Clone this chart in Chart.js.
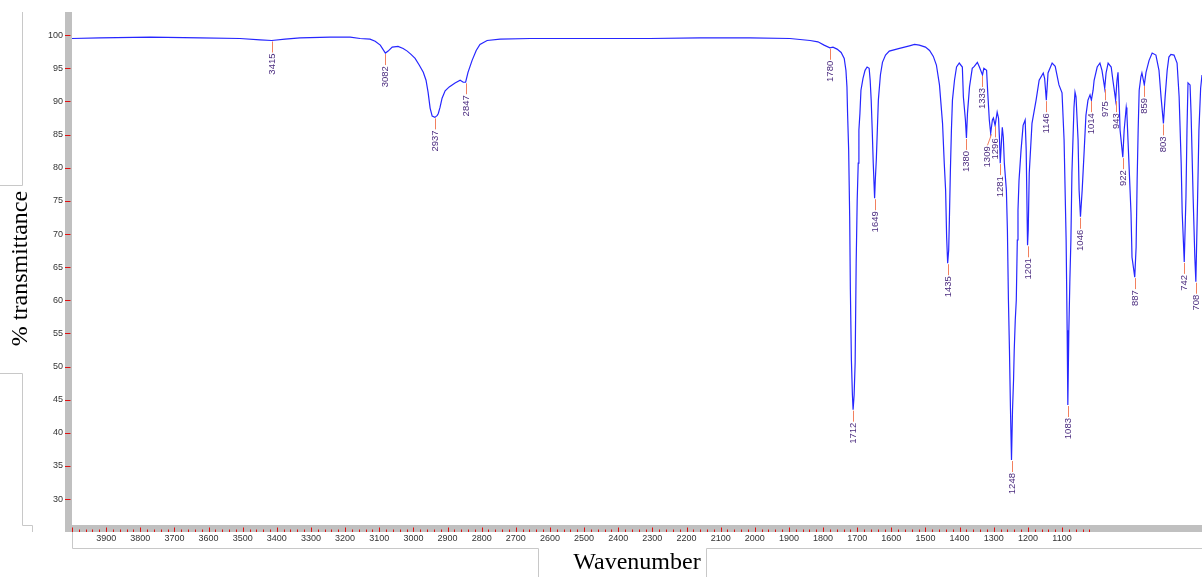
<!DOCTYPE html>
<html>
<head>
<meta charset="utf-8">
<script src="https://cdn.jsdelivr.net/npm/chart.js@4.4.0/dist/chart.umd.min.js"></script>
<style>
    html, body { margin: 0; padding: 0; background: #fff; }
</style>
</head>
<body>
<canvas id="ir" width="1202" height="577"></canvas>
<script>
// Espectro IR: número de onda (cm-1) y % transmitancia
const wavenumbers = [
    4000, 3918, 3771, 3625, 3508, 3449, 3415, 3376, 3332, 3244, 3185, 3156, 3127, 3112, 3097,
    3082, 3074, 3062, 3045, 3030, 3018, 3007, 2995, 2983, 2971, 2963, 2957, 2951, 2945, 2937,
    2930, 2927, 2922, 2916, 2907, 2895, 2878, 2863, 2854, 2847, 2840, 2828, 2816, 2805, 2784,
    2746, 2658, 2570, 2453, 2307, 2160, 2014, 1897, 1838, 1815, 1797, 1780, 1771, 1759, 1747,
    1738, 1733, 1730, 1728, 1725, 1722, 1720, 1717, 1714, 1712, 1709, 1706, 1703, 1700, 1697,
    1695, 1692, 1689, 1683, 1677, 1671, 1665, 1662, 1659, 1656, 1653, 1649, 1647, 1644, 1641,
    1638, 1632, 1626, 1617, 1606, 1576, 1547, 1532, 1518, 1500, 1488, 1477, 1468, 1459, 1450,
    1445, 1441, 1438, 1435, 1432, 1430, 1427, 1424, 1421, 1415, 1409, 1401, 1392, 1389, 1383,
    1380, 1377, 1371, 1363, 1357, 1348, 1342, 1333, 1329, 1321, 1318, 1313, 1309, 1304, 1301,
    1296, 1290, 1286, 1283, 1281, 1278, 1275, 1272, 1269, 1263, 1260, 1257, 1254, 1251, 1248,
    1245, 1242, 1240, 1237, 1234, 1231, 1229, 1226, 1220, 1214, 1208, 1205, 1201, 1199, 1196,
    1188, 1176, 1167, 1155, 1151, 1146, 1141, 1129, 1120, 1109, 1100, 1094, 1088, 1085, 1083,
    1080, 1077, 1074, 1071, 1065, 1062, 1059, 1053, 1050, 1046, 1041, 1035, 1030, 1024, 1018,
    1014, 1009, 1006, 997, 989, 983, 975, 971, 965, 956, 951, 943, 939, 936, 933,
    930, 922, 918, 912, 910, 904, 898, 895, 887, 883, 880, 877, 874, 869, 866,
    859, 854, 845, 836, 825, 816, 810, 803, 798, 792, 787, 781, 772, 763, 757,
    751, 748, 742, 737, 734, 731, 725, 722, 716, 711, 708, 703, 699, 694, 690
];
const transmittance = [
    99.5, 99.6, 99.7, 99.6, 99.5, 99.3, 99.2, 99.4, 99.6, 99.7, 99.7, 99.5, 99.4, 99.1, 98.5,
    97.3, 97.6, 98.2, 98.3, 98.0, 97.6, 97.1, 96.5, 95.5, 94.4, 93.2, 91.4, 89.0, 87.8, 87.6,
    87.9, 88.2, 89.1, 90.5, 91.6, 92.2, 92.8, 93.2, 92.9, 92.9, 94.4, 96.2, 97.7, 98.6, 99.2,
    99.4, 99.5, 99.5, 99.5, 99.5, 99.6, 99.6, 99.5, 99.2, 99.0, 98.5, 98.1, 98.2, 97.9, 97.4,
    96.5, 94.7, 92.2, 87.9, 82.7, 72.6, 61.6, 51.0, 45.7, 43.5, 45.7, 50.6, 65.6, 75.1, 80.7,
    85.7, 88.2, 91.7, 93.5, 94.7, 95.2, 95.0, 93.2, 90.2, 85.7, 80.7, 75.4, 78.1, 81.2, 85.7,
    90.2, 94.0, 95.9, 97.0, 97.6, 98.0, 98.4, 98.6, 98.5, 98.2, 97.7, 96.8, 95.5, 92.5, 86.7,
    80.7, 76.6, 69.5, 65.6, 67.6, 72.1, 79.6, 85.7, 90.2, 93.2, 95.2, 95.8, 95.2, 90.7, 87.2,
    84.5, 88.2, 92.2, 95.0, 95.3, 95.9, 95.2, 94.0, 95.0, 94.7, 91.7, 87.2, 85.2, 87.2, 87.5,
    86.4, 88.4, 87.5, 84.2, 80.7, 83.4, 86.1, 84.6, 80.7, 76.6, 70.6, 60.0, 52.5, 43.5, 35.9,
    43.5, 48.0, 52.5, 57.0, 60.0, 69.1, 73.6, 78.1, 82.7, 86.4, 87.2, 82.7, 68.3, 70.6, 79.2,
    86.7, 90.2, 93.2, 94.3, 93.5, 90.2, 94.3, 95.8, 95.3, 92.5, 91.3, 84.2, 69.1, 55.5, 44.2,
    55.5, 63.1, 69.1, 79.2, 89.1, 91.4, 90.7, 84.2, 76.6, 72.6, 76.6, 82.7, 87.9, 90.2, 91.0,
    90.2, 91.7, 93.2, 95.2, 95.8, 94.7, 92.0, 94.3, 95.8, 95.2, 93.2, 90.2, 93.2, 94.4, 90.7,
    85.7, 81.6, 85.7, 89.1, 88.2, 80.7, 73.2, 66.5, 63.5, 68.0, 78.1, 85.7, 91.7, 93.7, 94.3,
    92.5, 94.4, 96.2, 97.3, 97.0, 94.7, 90.7, 86.7, 90.7, 94.7, 96.7, 97.1, 97.0, 95.8, 90.7,
    80.7, 73.2, 65.8, 75.6, 85.7, 92.8, 92.5, 88.2, 75.6, 66.5, 62.8, 75.1, 85.7, 92.0, 94.0
];

// Picos marcados en la figura
const peakWn = [3415, 3082, 2937, 2847, 1780, 1712, 1649, 1435, 1380, 1333, 1309, 1296, 1281, 1248,
    1201, 1146, 1083, 1046, 1014, 975, 943, 922, 887, 859, 803, 742, 708];
const peakT = [99.2, 97.3, 87.6, 92.9, 98.1, 43.5, 75.4, 65.6, 84.5, 94.0, 85.2, 86.4, 80.7, 35.9,
    68.3, 90.2, 44.2, 72.6, 90.2, 92.0, 90.2, 81.6, 63.5, 92.5, 86.7, 65.8, 62.8];

// Ejes
const xMin = 690, xMax = 4000, xStep = 20, xTicksEnd = 1020;
const xLabelFrom = 1100, xLabelTo = 3900;
const yMin = 26.1, yMax = 103.5, yStep = 5;
const yLabelFrom = 30, yLabelTo = 100;

const puntos = wavenumbers.map((w, i) => ({ x: w, y: transmittance[i] }));

const tickFont = { family: '"Liberation Sans", Arial, sans-serif', size: 9 };
const titleFont = { family: '"Liberation Serif", "Times New Roman", serif', size: 24 };
const rojo = '#e01010';

// Dibujo extra: barras grises, marcas de ejes, marcos y etiquetas de picos
const decoraciones = {
    id: 'decoraciones',
    beforeDraw(chart) {
        const { ctx, chartArea: a } = chart;
        ctx.save();
        ctx.fillStyle = '#fff';
        ctx.fillRect(0, 0, chart.width, chart.height);
        ctx.fillStyle = '#c0c0c0';
        ctx.fillRect(a.left - 7, a.top, 7, a.bottom - a.top + 7);
        ctx.fillRect(a.left - 7, a.bottom, a.right - a.left + 7, 7);

        // marcos grises finos
        ctx.strokeStyle = '#c8c8c8';
        ctx.lineWidth = 1;
        ctx.beginPath();
        ctx.moveTo(22.5, 12); ctx.lineTo(22.5, 185.5); ctx.lineTo(0, 185.5);
        ctx.moveTo(0, 373.5); ctx.lineTo(22.5, 373.5); ctx.lineTo(22.5, 525.5); ctx.lineTo(32.5, 525.5); ctx.lineTo(32.5, 532);
        ctx.moveTo(72.5, 532); ctx.lineTo(72.5, 548.5); ctx.lineTo(538.5, 548.5); ctx.lineTo(538.5, 577);
        ctx.moveTo(706.5, 577); ctx.lineTo(706.5, 548.5); ctx.lineTo(1202, 548.5);
        ctx.stroke();
        ctx.restore();
    },
    afterDraw(chart) {
        const { ctx, chartArea: a } = chart;
        const xs = chart.scales.x, ys = chart.scales.y;
        ctx.save();

        // marcas rojas de los ejes
        ctx.strokeStyle = rojo;
        ctx.lineWidth = 1;
        ctx.beginPath();
        xs.ticks.forEach(t => {
            if (t.value < xTicksEnd) return;
            const x = Math.round(xs.getPixelForValue(t.value)) + 0.5;
            const largo = t.value % 100 === 0 ? 4.5 : 2.5;
            ctx.moveTo(x, a.bottom + 7 - largo);
            ctx.lineTo(x, a.bottom + 7);
        });
        ys.ticks.forEach(t => {
            if (t.value < yLabelFrom || t.value > yLabelTo) return;
            const y = Math.round(ys.getPixelForValue(t.value)) + 0.5;
            ctx.moveTo(a.left - 7, y);
            ctx.lineTo(a.left - 1.5, y);
        });
        ctx.stroke();

        // etiquetas de picos
        ctx.font = '9.5px "Liberation Sans", Arial, sans-serif';
        ctx.textAlign = 'right';
        ctx.textBaseline = 'middle';
        const xsPico = peakWn.map(w => Math.round(xs.getPixelForValue(w)) + 0.5);
        const ysPico = peakT.map(t => ys.getPixelForValue(t));
        const largos = peakWn.map(w => ctx.measureText(String(w)).width);
        const xsTexto = xsPico.slice();
        // si dos textos se pisan, el de mayor número de onda se corre a la izquierda
        for (let i = xsTexto.length - 2; i >= 0; i--) {
            const j = i + 1;
            const seSolapan = ysPico[i] + 13 < ysPico[j] + 13 + largos[j] &&
                ysPico[j] + 13 < ysPico[i] + 13 + largos[i];
            if (seSolapan && xsTexto[j] - xsTexto[i] < 8) xsTexto[i] = xsTexto[j] - 8;
        }
        peakWn.forEach((w, i) => {
            const x = xsPico[i], xt = xsTexto[i], y = ysPico[i];
            ctx.strokeStyle = '#f2805e';
            ctx.beginPath();
            ctx.moveTo(x, y + 1);
            ctx.lineTo(xt, y + 12);
            ctx.stroke();
            ctx.save();
            ctx.translate(xt, y + 13);
            ctx.rotate(-Math.PI / 2);
            ctx.fillStyle = '#4b2c7f';
            ctx.fillText(String(w), 0, 0);
            ctx.restore();
        });
        ctx.restore();
    }
};

new Chart(document.getElementById('ir'), {
    type: 'scatter',
    data: {
        datasets: [{
            data: puntos,
            showLine: true,
            borderColor: '#2626ff',
            borderWidth: 1.2,
            pointRadius: 0,
            tension: 0
        }]
    },
    options: {
        responsive: false,
        animation: false,
        devicePixelRatio: 1,
        layout: { padding: { top: 12, left: 0, right: 0, bottom: 0 } },
        plugins: {
            legend: { display: false },
            tooltip: { enabled: false }
        },
        scales: {
            x: {
                type: 'linear',
                reverse: true,
                min: xMin,
                max: xMax,
                afterFit: s => { s.height = 52; },
                border: { display: false },
                grid: { drawOnChartArea: false, tickLength: 6, tickColor: 'rgba(0,0,0,0)' },
                ticks: {
                    stepSize: xStep,
                    autoSkip: false,
                    includeBounds: false,
                    maxRotation: 0,
                    minRotation: 0,
                    padding: 2,
                    color: '#333',
                    font: tickFont,
                    callback: v => (v % 100 === 0 && v >= xLabelFrom && v <= xLabelTo) ? String(v) : ''
                },
                title: {
                    display: true,
                    text: 'Wavenumber',
                    color: '#000',
                    font: titleFont,
                    padding: { top: 0, bottom: 0 }
                }
            },
            y: {
                min: yMin,
                max: yMax,
                afterFit: s => { s.width = 72; },
                border: { display: false },
                grid: { drawOnChartArea: false, tickLength: 6, tickColor: 'rgba(0,0,0,0)' },
                ticks: {
                    stepSize: yStep,
                    includeBounds: false,
                    padding: 3,
                    color: '#333',
                    font: tickFont,
                    callback: v => (v >= yLabelFrom && v <= yLabelTo) ? String(v) : ''
                },
                title: {
                    display: true,
                    text: '% transmittance',
                    color: '#000',
                    font: titleFont,
                    padding: { top: 6, bottom: 0 }
                }
            }
        }
    },
    plugins: [decoraciones]
});
</script>
</body>
</html>
